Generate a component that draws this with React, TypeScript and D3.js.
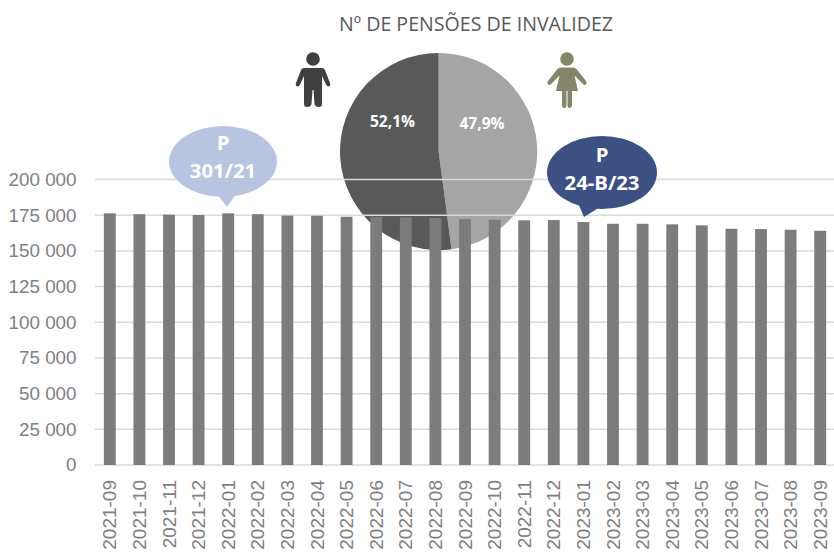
import React from "react";
import * as d3 from "d3";

const months = ["2021-09","2021-10","2021-11","2021-12","2022-01","2022-02","2022-03","2022-04","2022-05","2022-06","2022-07","2022-08","2022-09","2022-10","2022-11","2022-12","2023-01","2023-02","2023-03","2023-04","2023-05","2023-06","2023-07","2023-08","2023-09"];
const pensions = [176300,175700,175400,175100,176300,175700,174700,174600,173900,173900,173500,173000,172300,171800,171400,171600,170200,169000,169000,168600,167900,165500,165300,164800,164100];
const yTicks = [0,25000,50000,75000,100000,125000,150000,175000,200000];
const genderShare = [
  { label: "47,9%", value: 47.9, color: "#a5a5a5" },
  { label: "52,1%", value: 52.1, color: "#595959" },
];

const W = 834, H = 554;
const x = d3.scaleBand<string>().domain(months).range([95, 835]).paddingInner(0.6).paddingOuter(0.3);
const y = d3.scaleLinear().domain([0, 200000]).range([465, 179.5]);
const fmt = (v: number) => String(v).replace(/\B(?=(\d{3})+$)/g, " ");

const pieC = { x: 438.6, y: 151.5, r: 98.6 };
const pieArcs = d3.pie<any>().value(d => d.value).sort(null)(genderShare);
const arcGen = d3.arc<any>().innerRadius(0).outerRadius(pieC.r);

const calloutFont = "'Open Sans', sans-serif";

function Callout({ cx, tip, cy, rx, ry, base, fill, lines, baselines }: any) {
  return (
    <g>
      <ellipse cx={cx} cy={cy} rx={rx} ry={ry} fill={fill} />
      <path d={`M${base[0]},${base[1]}L${tip[0]},${tip[1]}L${base[2]},${base[3]}Z`} fill={fill} />
      {lines.map((t: string, i: number) => (
        <text key={i} x={cx} y={baselines[i]} textAnchor="middle" fontFamily={calloutFont} fontWeight={700} fontSize={20.3} fill="#ffffff">{t}</text>
      ))}
    </g>
  );
}

export default function App() {
  return (
    <svg width={W} height={H} style={{ position: "absolute", left: 0, top: 0, background: "#fff" }}>
      <defs>
        <filter id="soft" x="-30%" y="-5%" width="160%" height="110%">
          <feGaussianBlur stdDeviation="0.6" />
        </filter>
      </defs>
      <text x={476} y={31} textAnchor="middle" fontFamily="'Open Sans', sans-serif" fontSize={19.6} fill="#595959">Nº DE PENSÕES DE INVALIDEZ</text>

      {pieArcs.map((a, i) => (
        <path key={i} d={arcGen(a) as string} transform={`translate(${pieC.x},${pieC.y})`} fill={a.data.color} />
      ))}
      <text x={392.5} y={127} textAnchor="middle" fontFamily={calloutFont} fontWeight={700} fontSize={15.5} fill="#fff">{genderShare[1].label}</text>
      <text x={482} y={129} textAnchor="middle" fontFamily={calloutFont} fontWeight={700} fontSize={15.5} fill="#fff">{genderShare[0].label}</text>

      <g filter="url(#soft)">
        {/* man */}
        <g fill="#404040">
          <circle cx={313} cy={59} r={6.8} />
          <path d="M304,68 H322 Q324,68 325,70 L330,83 Q331,86 328.5,86.5 Q327,86.5 326,84.5 L322,76 V104 Q322,107 319,107 Q315,107 314.5,104 L313.5,90 H312.5 L311.5,104 Q311,107 307,107 Q304,107 304,104 V76 L300,84.5 Q299,86.5 297.5,86.5 Q295,86 296,83 L301,70 Q302,68 304,68 Z" />
        </g>
        {/* woman */}
        <g fill="#85856b">
          <circle cx={567} cy={59} r={6.8} />
          <path d="M561,67.5 H573 Q575,67.5 577,69.5 L586,81 Q587.5,83 586,84.5 Q584.5,85.5 583,84 L574.5,75.5 L578,91 H572 V105 Q572,108 569.5,108 Q567.5,108 567.5,105 V91 H566.5 V105 Q566.5,108 564.5,108 Q562,108 562,105 V91 H556 L559.5,75.5 L551,84 Q549.5,85.5 548,84.5 Q546.5,83 548,81 L557,69.5 Q559,67.5 561,67.5 Z" />
        </g>
      </g>

      {yTicks.map(t => (
        <g key={t}>
          <line x1={95} x2={W} y1={y(t)} y2={y(t)} stroke="#d9d9d9" strokeWidth={1.5} />
          <text x={76.5} y={y(t) + 6.4} textAnchor="end" fontFamily="'Liberation Sans', sans-serif" fontSize={18.8} fill="#7f7f7f">{fmt(t)}</text>
        </g>
      ))}

      <g filter="url(#soft)">
        {months.map((m, i) => (
          <rect key={m} x={x(m)} y={y(pensions[i])} width={x.bandwidth()} height={465 - y(pensions[i])} fill="#7c7c7c" />
        ))}
      </g>

      {months.map(m => {
        const cx = (x(m) as number) + x.bandwidth() / 2;
        return (
          <text key={m} transform={`translate(${cx + 6.5},${480}) rotate(-90)`} textAnchor="end" fontFamily="'Liberation Sans', sans-serif" fontSize={19} fill="#7f7f7f">{m}</text>
        );
      })}

      <Callout cx={223} cy={161.5} rx={54} ry={35.5} tip={[227, 207]} base={[217, 194, 236, 194]} fill="#b8c5e0" lines={["P", "301/21"]} baselines={[150, 178]} />
      <Callout cx={602} cy={172.5} rx={55} ry={36.5} tip={[584, 217]} base={[578, 203, 600, 207]} fill="#3c5084" lines={["P", "24-B/23"]} baselines={[161.5, 190]} />
    </svg>
  );
}
